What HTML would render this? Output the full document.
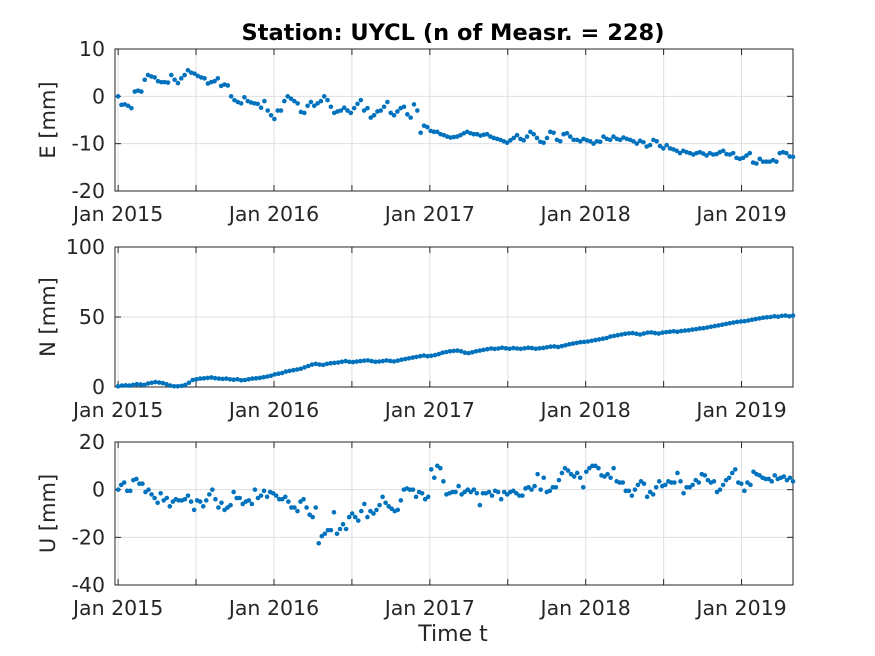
<!DOCTYPE html>
<html><head><meta charset="utf-8"><style>
html,body{margin:0;padding:0;background:#fff}
svg{display:block;font-family:"DejaVu Sans","Liberation Sans",sans-serif}
</style></head><body>
<svg id="chart" width="875" height="656" viewBox="0 0 875 656" xmlns="http://www.w3.org/2000/svg">
<rect width="875" height="656" fill="#fff"/>
<text x="453" y="40" text-anchor="middle" font-size="22.5" font-weight="bold" fill="#000">Station: UYCL (n of Measr. = 228)</text>
<text x="453" y="641" text-anchor="middle" font-size="22" fill="#262626">Time t</text>
<g id="plots"></g>
</svg>
<script>
const xTickYears = [2015, 2016, 2017, 2018, 2019];
const xTickLabels = ["Jan 2015", "Jan 2016", "Jan 2017", "Jan 2018", "Jan 2019"];
const tStart = 2015.0, tEnd = 2019.33;
const eTicks = [10, 0, -10, -20];
const nTicks = [100, 50, 0];
const uTicks = [20, 0, -20, -40];
const eValues = [0,-1.8,-1.7,-2,-2.5,1,1.2,1,3.5,4.5,4.2,4,3.2,3,3,2.9,4.5,3.5,2.8,3.8,4.5,5.5,5,4.8,4.3,4,3.8,2.7,3.0,3.2,3.8,2.2,2.5,2.3,
0,-0.8,-1.2,-1.5,-0.2,-1,-1.3,-1.5,-1.6,-2.4,-1,-3,-4,-4.8,-3,-3,
-1,0,-0.5,-1,-1.5,-3.3,-3.5,-2,-1.2,-2,-1.5,-1,0,-0.8,-2.2,-3.5,-3.2,-3,-2.4,-3,-3.5,-2.5,-1.6,-0.8,-3,-2.5,-4.5,-4,-3.2,-3,-2.2,-1.2,-3.5,-4,-3.2,-2.5,-2.2,-3.8,-4.5,-1.7,-3,
-7.7,-6.2,-6.5,-7.3,-7.5,-7.5,-8,-8.2,-8.5,-8.7,-8.6,-8.5,-8.2,-7.8,-7.5,-7.8,-8,-8,-8.3,-8.1,-8,-8.5,-8.8,-9,-9.2,-9.5,-9.8,-9.3,-8.8,-8.2,-9,-9.3,-8.5,-7.5,-8,-8.8,-9.6,-9.8,-8.8,-7.5,-7.7,-9.2,-9.5,-8,-7.8,-8.5,-9.2,-9.2,-9.5,-9,-9.3,-9.5,-10,-9.5,-9.6,-8.5,-9,-9.2,-8.5,-9,-9.2,
-8.7,-9,-9.2,-9.5,-10,-9.4,-9.7,-10.6,-10.3,-9.2,-9.5,-10.5,-11,-10.3,-11,-11.2,-11.5,-12,-11.5,-11.8,-12,-12.3,-12,-11.8,-12.1,-12.5,-12,-12.3,-12.2,-11.8,-11.5,-12.2,-12.3,-12,-13,-13.2,-13,-12.5,-12,-14,-14.2,-13.2,-13.8,-13.8,-13.8,-13.5,-13.8,-12,-11.8,-12,-12.7,-12.8];
const nValues = [0.5,1,1.2,1,1.5,2,1.8,1.5,2.5,3,3.5,3.2,2.8,2,1,0.5,0.5,0.8,1.5,3,5,5.5,6,6.2,6.5,6.8,6.3,6,5.8,6,5.5,5.2,5.5,4.8,5,5.5,6,6.2,6.5,7,7.5,8,9,9.5,10,11,11.5,12,12.5,13,14,15,16,16.5,16,15.8,16.5,17,17.2,17.5,18,18.5,18,17.8,18.2,18.5,18.8,19,18.5,18,18.2,18.5,19,18.6,18.3,18.8,19.5,20,20.5,21,21.5,22,22.5,22,22.3,22.8,23.5,24.5,25,25.5,25.8,26,25.5,24.5,24.2,24.8,25.5,26,26.5,27,27.5,27.2,27.5,28,27.6,27.3,27.8,27.5,27.2,27.6,28,27.8,27.3,27.6,27.9,28.4,28.8,29,28.6,29.2,29.8,30.5,31,31.5,32,32.2,32.5,33,33.5,34,34.5,35,36,36.5,37,37.5,38,38.3,38.5,38,37.5,38.2,38.8,39,38.5,38.2,38.8,39.2,39.5,39.8,39.5,40,40.3,40.5,41,41.3,41.8,42,42.5,43,43.5,44,44.5,45,45.5,46,46.5,46.8,47,47.5,48,48.5,49,49.5,49.8,50,50.5,50.2,50.8,51,50.5,51];
const uValues = [0,2,3,-0.5,-0.5,4,4.5,2.5,2.5,-1,0,-2,-3.5,-5.5,-1.5,-4.5,-3.5,-7,-5,-4,-4.5,-4.5,-4,-2.5,-5,-8.5,-4.5,-5,-7,-4.5,-2,0,-4,-7.5,-5.5,-8.5,-7.5,-6.5,-1,-3.5,-3.5,-6,-5,-4.5,-6,0,-3.5,-2.5,-0.5,-3,-1,-1.5,-2.5,-4,-4,-3,-5,-7.5,-7.5,-9,-5,-4,-7.5,-10.5,-11.5,-7.5,-22.5,-19.5,-18.5,-17,-17,-9.5,-18.5,-16.5,-14.5,-16.5,-11.5,-10,-11.5,-13,-9,-6,-11.5,-9,-10,-8.5,-6.5,-3,-5.5,-7,-8,-9,-8.5,-4.5,0,0.5,0,0,-3,-1,-1.5,-4,-3,8.5,5,10,9,3.5,-2,-1.5,-1,-1,1.5,-2,-1,0,-1,0,-1.5,-6.5,-1.5,-1.5,-1,-2.5,-0.5,-1,-4,-1,-2,-1,-0.5,-1.5,-2.5,-2.5,0.5,1,0,1.5,6.5,0,5,-1,-0.5,1,1,4,7,9,8,6.5,5.5,7,5,1,7.5,9,10,10,9,6,5.5,6.5,5,9,3.5,3,3,-0.5,-0.5,-2.5,0,2,3.5,2.5,-3,-1,-2,1,3.5,1.5,2,3.5,3,3,7,3.5,-1.5,1,1,2,4,3,6.5,6,4,3,3.5,-1,0,2,4,5,7,8.5,3,2.5,-0.5,3,2,7.5,6.5,6,5,4.5,4.5,3.5,6,4.5,5,5.5,4,5,3.5];

const NS = "http://www.w3.org/2000/svg";
const g = document.getElementById('plots');
const X0 = 115, X1 = 793, T0 = 2014.98, T1 = 2019.33;
function xScale(t){ return X0 + (t - T0) / (T1 - T0) * (X1 - X0); }
function mk(tag, attrs){ const e = document.createElementNS(NS, tag); for (const k in attrs) e.setAttribute(k, attrs[k]); return e; }

const panels = [
  {key:'e', label:'E [mm]', top:49, bot:191, max:10, min:-20, ticks:eTicks, vals:eValues},
  {key:'n', label:'N [mm]', top:247, bot:387, max:100, min:0, ticks:nTicks, vals:nValues},
  {key:'u', label:'U [mm]', top:442, bot:585, max:20, min:-40, ticks:uTicks, vals:uValues}
];
panels.forEach(p => {
  const yScale = v => p.bot - (v - p.min) / (p.max - p.min) * (p.bot - p.top);
  const pg = mk('g', {});
  
  
  g.appendChild(pg);
  for (let y = 2015; y <= 2019.3; y += 0.5) {
    const x = xScale(y);
    const l = mk('line', {x1:x, x2:x, y1:p.top, y2:p.bot, stroke:'#dfdfdf', 'stroke-width':1});
    
    
    pg.appendChild(l);
    const tk1 = mk('line', {x1:x, x2:x, y1:p.bot, y2:p.bot-6, stroke:'#262626'});
    
    
    pg.appendChild(tk1);
    const tk2 = mk('line', {x1:x, x2:x, y1:p.top, y2:p.top+6, stroke:'#262626'});
    
    
    pg.appendChild(tk2);
  }
  p.ticks.forEach(v => {
    const y = yScale(v);
    const l = mk('line', {x1:X0, x2:X1, y1:y, y2:y, stroke:'#dfdfdf', 'stroke-width':1});
    
    
    pg.appendChild(l);
    const t1 = mk('line', {x1:X0, x2:X0+6, y1:y, y2:y, stroke:'#262626'});
    
    
    pg.appendChild(t1);
    const t2 = mk('line', {x1:X1, x2:X1-6, y1:y, y2:y, stroke:'#262626'});
    
    
    pg.appendChild(t2);
    const tx = mk('text', {x:X0-10, y:y+7, 'text-anchor':'end', 'font-size':20.5, fill:'#262626'});
    
    
    tx.textContent = v;
    pg.appendChild(tx);
  });
  xTickYears.forEach((yr, i) => {
    const tx = mk('text', {x:xScale(yr), y:p.bot+30, 'text-anchor':'middle', 'font-size':20.5, fill:'#262626'});
    
    
    tx.textContent = xTickLabels[i];
    pg.appendChild(tx);
  });
  const box = mk('rect', {x:X0, y:p.top, width:X1-X0, height:p.bot-p.top, fill:'none', stroke:'#262626', 'stroke-width':1});
  
  
  pg.appendChild(box);
  const cy = (p.top + p.bot) / 2;
  const yl = mk('text', {x:0, y:0, transform:`translate(55,${cy}) rotate(-90)`, 'text-anchor':'middle', 'font-size':21, fill:'#262626'});
  
  
  yl.textContent = p.label;
  pg.appendChild(yl);
  const n = p.vals.length;
  p.vals.forEach((v, i) => {
    const t = tStart + (tEnd - tStart) * i / (n - 1);
    const c = mk('circle', {cx:xScale(t), cy:yScale(v), r:2.3, fill:'#0072BD'});
    
    
    pg.appendChild(c);
  });
});
</script>
</body></html>
